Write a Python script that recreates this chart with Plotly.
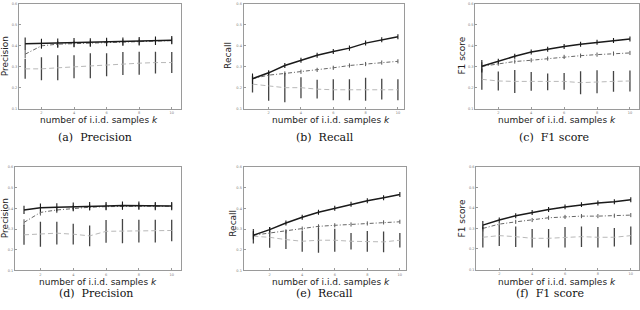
import plotly.graph_objects as go

W, H = 640, 310
k = list(range(1, 11))

# ---- data ----
a_s1 = [0.410, 0.412, 0.413, 0.415, 0.416, 0.418, 0.420, 0.422, 0.424, 0.427]
a_s1e = [0.030, 0.022, 0.022, 0.022, 0.020, 0.020, 0.020, 0.020, 0.020, 0.020]
a_s2 = [0.360, 0.400, 0.408, 0.410, 0.413, 0.415, 0.417, 0.420, 0.422, 0.425]
a_s2e = [0.020, 0.015, 0.015, 0.015, 0.015, 0.015, 0.015, 0.015, 0.015, 0.015]
a_s3 = [0.290, 0.290, 0.295, 0.300, 0.305, 0.310, 0.315, 0.317, 0.320, 0.320]
a_s3e = [0.047, 0.055, 0.060, 0.055, 0.060, 0.055, 0.055, 0.055, 0.052, 0.050]

b_s1 = [0.243, 0.271, 0.306, 0.331, 0.355, 0.373, 0.389, 0.413, 0.429, 0.443]
b_s1e = [0.025, 0.012, 0.012, 0.012, 0.012, 0.012, 0.012, 0.012, 0.012, 0.012]
b_s2 = [0.243, 0.260, 0.268, 0.276, 0.285, 0.295, 0.306, 0.313, 0.320, 0.326]
b_s2e = [0.020, 0.010, 0.010, 0.010, 0.010, 0.010, 0.010, 0.010, 0.010, 0.010]
b_s3 = [0.217, 0.207, 0.200, 0.200, 0.193, 0.190, 0.190, 0.193, 0.193, 0.190]
b_s3e = [0.040, 0.070, 0.070, 0.050, 0.045, 0.050, 0.050, 0.055, 0.050, 0.050]

c_s1 = [0.302, 0.326, 0.350, 0.370, 0.384, 0.397, 0.408, 0.417, 0.425, 0.433]
c_s1e = [0.030, 0.012, 0.012, 0.012, 0.012, 0.012, 0.012, 0.012, 0.012, 0.012]
c_s2 = [0.302, 0.315, 0.325, 0.331, 0.339, 0.347, 0.353, 0.358, 0.363, 0.366]
c_s2e = [0.020, 0.010, 0.010, 0.010, 0.010, 0.010, 0.010, 0.010, 0.010, 0.010]
c_s3 = [0.240, 0.232, 0.230, 0.230, 0.228, 0.230, 0.224, 0.228, 0.230, 0.232]
c_s3e = [0.050, 0.045, 0.055, 0.045, 0.040, 0.040, 0.055, 0.055, 0.050, 0.050]

d_s1 = [0.392, 0.403, 0.405, 0.408, 0.411, 0.411, 0.413, 0.413, 0.411, 0.411]
d_s1e = [0.020, 0.020, 0.020, 0.020, 0.020, 0.020, 0.020, 0.020, 0.020, 0.020]
d_s2 = [0.332, 0.380, 0.392, 0.400, 0.405, 0.408, 0.410, 0.410, 0.410, 0.410]
d_s2e = [0.015, 0.015, 0.015, 0.015, 0.015, 0.015, 0.015, 0.015, 0.015, 0.015]
d_s3 = [0.272, 0.275, 0.280, 0.275, 0.267, 0.289, 0.290, 0.290, 0.290, 0.293]
d_s3e = [0.048, 0.060, 0.055, 0.050, 0.050, 0.055, 0.058, 0.055, 0.055, 0.052]

e_s1 = [0.270, 0.297, 0.329, 0.357, 0.381, 0.400, 0.420, 0.436, 0.451, 0.467]
e_s1e = [0.020, 0.012, 0.012, 0.012, 0.012, 0.012, 0.012, 0.012, 0.012, 0.012]
e_s2 = [0.270, 0.281, 0.289, 0.302, 0.313, 0.318, 0.322, 0.327, 0.332, 0.335]
e_s2e = [0.015, 0.010, 0.010, 0.010, 0.010, 0.010, 0.010, 0.010, 0.010, 0.010]
e_s3 = [0.265, 0.260, 0.249, 0.241, 0.246, 0.246, 0.241, 0.241, 0.238, 0.246]
e_s3e = [0.035, 0.050, 0.045, 0.050, 0.060, 0.055, 0.040, 0.050, 0.050, 0.035]

f_s1 = [0.316, 0.341, 0.362, 0.378, 0.392, 0.405, 0.416, 0.424, 0.430, 0.440]
f_s1e = [0.020, 0.012, 0.012, 0.012, 0.012, 0.012, 0.012, 0.012, 0.012, 0.012]
f_s2 = [0.300, 0.321, 0.332, 0.341, 0.352, 0.356, 0.360, 0.360, 0.362, 0.365]
f_s2e = [0.015, 0.010, 0.010, 0.010, 0.010, 0.010, 0.010, 0.010, 0.010, 0.010]
f_s3 = [0.257, 0.265, 0.260, 0.252, 0.252, 0.257, 0.260, 0.257, 0.257, 0.265]
f_s3e = [0.050, 0.050, 0.050, 0.045, 0.045, 0.050, 0.050, 0.050, 0.045, 0.045]

y_ticks = [0.1, 0.2, 0.3, 0.4, 0.5, 0.6]
x_ticks = [2, 4, 6, 8, 10]
y_titles = ["Precision", "Recall", "F1 score", "Precision", "Recall", "F1 score"]
captions = ["(a)  Precision", "(b)  Recall", "(c)  F1 score",
            "(d)  Precision", "(e)  Recall", "(f)  F1 score"]
x_title = "number of i.i.d. samples <i>k</i>"

panels = [
    (a_s1, a_s1e, a_s2, a_s2e, a_s3, a_s3e),
    (b_s1, b_s1e, b_s2, b_s2e, b_s3, b_s3e),
    (c_s1, c_s1e, c_s2, c_s2e, c_s3, c_s3e),
    (d_s1, d_s1e, d_s2, d_s2e, d_s3, d_s3e),
    (e_s1, e_s1e, e_s2, e_s2e, e_s3, e_s3e),
    (f_s1, f_s1e, f_s2, f_s2e, f_s3, f_s3e),
]

# ---- layout geometry (pixels) ----
boxes_x = [(19, 181), (244, 405), (476, 640), (15, 181), (244, 407), (477, 640)]
boxes_y = [(2, 108), (2, 108), (2, 108), (167, 272), (167, 272), (167, 271)]
x_ranges = [[0.62, 10.55], [0.45, 10.4], [0.6, 10.55], [0.45, 10.55], [0.4, 10.4], [0.6, 10.5]]
ytitle_pos = [(5, 55), (229, 54), (463, 54), (5, 219), (233, 224), (463, 219)]
xtitle_pos = [(99, 120), (332, 120), (558, 120), (98, 284), (332, 284), (558, 284)]
caption_pos = [(95, 137), (326, 137), (555, 137), (96, 295), (325, 295), (551, 295)]

fig = go.Figure()
annotations = []
for i, (s1, s1e, s2, s2e, s3, s3e) in enumerate(panels):
    n = i + 1
    xa = "x" if n == 1 else f"x{n}"
    ya = "y" if n == 1 else f"y{n}"
    fig.add_trace(go.Scatter(x=k, y=s3, mode="lines", xaxis=xa, yaxis=ya,
                             line=dict(color="#b8b8b8", width=1, dash="5px,3px"),
                             error_y=dict(type="data", array=s3e, visible=True,
                                          color="#444444", thickness=1.3, width=0),
                             showlegend=False))
    fig.add_trace(go.Scatter(x=k, y=s2, mode="lines", xaxis=xa, yaxis=ya,
                             line=dict(color="#666666", width=1, dash="4px,2px,1px,2px"),
                             error_y=dict(type="data", array=s2e, visible=True,
                                          color="#555555", thickness=1, width=0),
                             showlegend=False))
    fig.add_trace(go.Scatter(x=k, y=s1, mode="lines", xaxis=xa, yaxis=ya,
                             line=dict(color="#1a1a1a", width=1.5),
                             error_y=dict(type="data", array=s1e, visible=True,
                                          color="#1a1a1a", thickness=1.1, width=0),
                             showlegend=False))
    x0, x1 = boxes_x[i]
    y0, y1 = boxes_y[i]
    common = dict(showline=True, mirror=True, linecolor="#9a9a9a", linewidth=1,
                  showgrid=False, zeroline=False, ticks="inside", ticklen=2,
                  tickcolor="#9a9a9a", tickfont=dict(size=3.5, color="#777777",
                                                     family="DejaVu Sans"))
    fig.layout[f"xaxis{'' if n == 1 else n}"] = dict(
        domain=[x0 / W, x1 / W], anchor=ya, range=x_ranges[i],
        tickvals=x_ticks, ticktext=[str(v) for v in x_ticks], **common)
    fig.layout[f"yaxis{'' if n == 1 else n}"] = dict(
        domain=[1 - y1 / H, 1 - y0 / H], anchor=xa, range=[0.1, 0.6],
        tickvals=y_ticks, ticktext=[f"{v:.1f}" for v in y_ticks], **common)
    tx, ty = ytitle_pos[i]
    annotations.append(dict(x=tx / W, y=1 - ty / H, xref="paper", yref="paper",
                            text=y_titles[i], textangle=-90, showarrow=False,
                            font=dict(size=9, color="#222222", family="DejaVu Sans"),
                            xanchor="center", yanchor="middle"))
    tx, ty = xtitle_pos[i]
    annotations.append(dict(x=tx / W, y=1 - ty / H, xref="paper", yref="paper",
                            text=x_title, showarrow=False,
                            font=dict(size=9, color="#222222", family="DejaVu Sans"),
                            xanchor="center", yanchor="middle"))
    tx, ty = caption_pos[i]
    annotations.append(dict(x=tx / W, y=1 - ty / H, xref="paper", yref="paper",
                            text=captions[i], showarrow=False,
                            font=dict(size=11, color="#111111", family="DejaVu Serif"),
                            xanchor="center", yanchor="middle"))

fig.update_layout(width=W, height=H, margin=dict(l=0, r=0, t=0, b=0),
                  paper_bgcolor="white", plot_bgcolor="white",
                  annotations=annotations, showlegend=False)
fig.write_html("out.html", config={"displayModeBar": False},
               post_script="document.body.style.margin='0';")
